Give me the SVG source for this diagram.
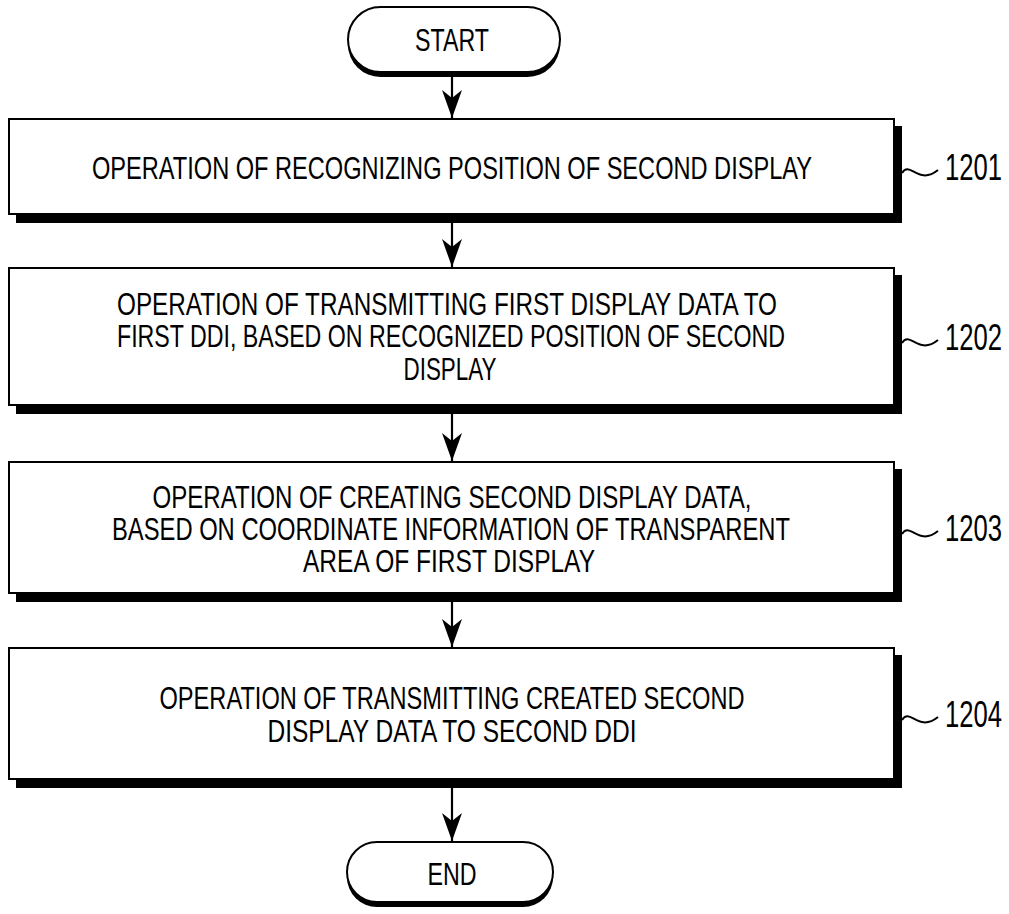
<svg xmlns="http://www.w3.org/2000/svg" width="1009" height="914" viewBox="0 0 1009 914">
<defs>
<style>
.box{fill:#fff;stroke:#000;stroke-width:2}
.sh{fill:#000}
.t{font-family:"Liberation Sans",Arial,sans-serif;font-size:32px;fill:#000;text-anchor:middle}
.lbl{font-family:"Liberation Sans",Arial,sans-serif;font-size:36px;fill:#000}
.ln{fill:none;stroke:#000;stroke-width:2.2}
.sq{fill:none;stroke:#000;stroke-width:2}
</style>
<marker id="ah" viewBox="0 0 28 20" refX="28" refY="10" markerWidth="28" markerHeight="20" markerUnits="userSpaceOnUse" orient="auto">
<path d="M0,0 L8,10 L0,20 L28,10 Z" fill="#000"/>
</marker>
</defs>
<rect width="1009" height="914" fill="#fff"/>

<g id="connectors">
<line class="ln" x1="452" y1="77" x2="452" y2="118" marker-end="url(#ah)"/>
<line class="ln" x1="452" y1="223" x2="452" y2="267" marker-end="url(#ah)"/>
<line class="ln" x1="452" y1="414" x2="452" y2="461" marker-end="url(#ah)"/>
<line class="ln" x1="452" y1="602" x2="452" y2="647" marker-end="url(#ah)"/>
<line class="ln" x1="452" y1="788" x2="452" y2="841" marker-end="url(#ah)"/>
</g>

<g id="start">
<rect class="sh" x="348" y="12" width="212" height="65" rx="32.5"/>
<rect class="box" x="348" y="7" width="212" height="65" rx="32.5"/>
<text class="t" x="452" y="51" textLength="74" lengthAdjust="spacingAndGlyphs">START</text>
</g>

<g id="n1201">
<rect class="sh" x="16" y="126" width="886" height="97"/>
<rect class="box" x="9" y="119" width="885" height="95"/>
<text class="t" x="452" y="178.5" textLength="720" lengthAdjust="spacingAndGlyphs">OPERATION OF RECOGNIZING POSITION OF SECOND DISPLAY</text>
<path class="sq" d="M902,173 C910,160 918,186 938,170"/>
<text class="lbl" x="945" y="180" textLength="57" lengthAdjust="spacingAndGlyphs">1201</text>
</g>

<g id="n1202">
<rect class="sh" x="16" y="275" width="886" height="139"/>
<rect class="box" x="9" y="268" width="885" height="137"/>
<text class="t" x="447" y="315" textLength="660" lengthAdjust="spacingAndGlyphs">OPERATION OF TRANSMITTING FIRST DISPLAY DATA TO</text>
<text class="t" x="451" y="347" textLength="668" lengthAdjust="spacingAndGlyphs">FIRST DDI, BASED ON RECOGNIZED POSITION OF SECOND</text>
<text class="t" x="450" y="380" textLength="93" lengthAdjust="spacingAndGlyphs">DISPLAY</text>
<path class="sq" d="M902,343 C910,330 918,356 938,340"/>
<text class="lbl" x="945" y="350" textLength="57" lengthAdjust="spacingAndGlyphs">1202</text>
</g>

<g id="n1203">
<rect class="sh" x="16" y="469" width="886" height="133"/>
<rect class="box" x="9" y="462" width="885" height="131"/>
<text class="t" x="452" y="508" textLength="599" lengthAdjust="spacingAndGlyphs">OPERATION OF CREATING SECOND DISPLAY DATA,</text>
<text class="t" x="451" y="540" textLength="678" lengthAdjust="spacingAndGlyphs">BASED ON COORDINATE INFORMATION OF TRANSPARENT</text>
<text class="t" x="449" y="572" textLength="292" lengthAdjust="spacingAndGlyphs">AREA OF FIRST DISPLAY</text>
<path class="sq" d="M902,534 C910,521 918,547 938,531"/>
<text class="lbl" x="945" y="541" textLength="57" lengthAdjust="spacingAndGlyphs">1203</text>
</g>

<g id="n1204">
<rect class="sh" x="16" y="655" width="886" height="133"/>
<rect class="box" x="9" y="648" width="885" height="131"/>
<text class="t" x="452" y="709" textLength="585" lengthAdjust="spacingAndGlyphs">OPERATION OF TRANSMITTING CREATED SECOND</text>
<text class="t" x="452" y="742" textLength="369" lengthAdjust="spacingAndGlyphs">DISPLAY DATA TO SECOND DDI</text>
<path class="sq" d="M902,720 C910,707 918,733 938,717"/>
<text class="lbl" x="945" y="727" textLength="57" lengthAdjust="spacingAndGlyphs">1204</text>
</g>

<g id="end">
<rect class="sh" x="347" y="847" width="206" height="60" rx="30"/>
<rect class="box" x="347" y="842" width="206" height="60" rx="30"/>
<text class="t" x="452" y="885" textLength="49" lengthAdjust="spacingAndGlyphs">END</text>
</g>
</svg>
